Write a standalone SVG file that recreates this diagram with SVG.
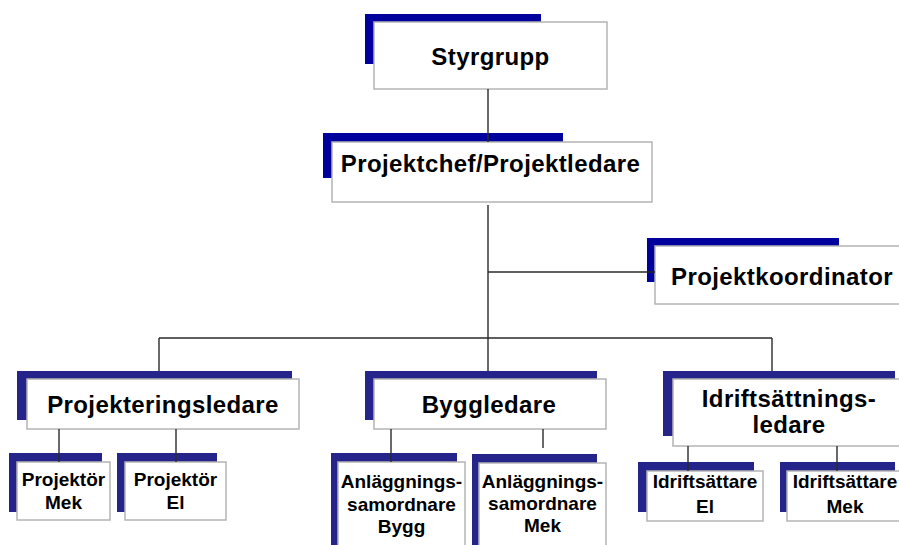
<svg xmlns="http://www.w3.org/2000/svg" width="899" height="545" viewBox="0 0 899 545">
  <style>
    .bg { fill: #ffffff; }
    .sh1 { fill: #00009c; }
    .sh2 { fill: #24248a; }
    .box { fill: #ffffff; stroke: #b4b4b4; stroke-width: 1.5; }
    .big { font-family: "Liberation Sans", Arial, sans-serif; font-weight: bold; font-size: 24px; letter-spacing: 0.4px; fill: #000; text-anchor: middle; }
    .small { font-family: "Liberation Sans", Arial, sans-serif; font-weight: bold; font-size: 19px; fill: #000; text-anchor: middle; }
    .conn line { stroke: #2a2a2a; stroke-width: 1.4; fill: none; }
  </style>
  <rect class="bg" x="0" y="0" width="899" height="545"/>

  <!-- top level -->
  <g id="styrgrupp">
    <rect class="sh1" x="365" y="14" width="176" height="50"/>
    <rect class="box" x="374" y="22" width="233" height="67"/>
    <text class="big" x="490.5" y="65">Styrgrupp</text>
  </g>

  <g id="projektchef">
    <rect class="sh1" x="323" y="133" width="240" height="45"/>
    <rect class="box" x="332" y="142" width="320" height="60"/>
    <text class="big" x="490.5" y="172">Projektchef/Projektledare</text>
  </g>

  <g id="projektkoordinator">
    <rect class="sh1" x="647" y="238" width="192" height="44"/>
    <rect class="box" x="655" y="246" width="254" height="58"/>
    <text class="big" x="782" y="285">Projektkoordinator</text>
  </g>

  <!-- second level -->
  <g id="projekteringsledare">
    <rect class="sh2" x="17" y="371" width="275" height="49"/>
    <rect class="box" x="27" y="379" width="272" height="50"/>
    <text class="big" x="163" y="413">Projekteringsledare</text>
  </g>

  <g id="byggledare">
    <rect class="sh2" x="365" y="371" width="232" height="49"/>
    <rect class="box" x="374" y="379" width="232" height="50"/>
    <text class="big" x="489" y="413">Byggledare</text>
  </g>

  <g id="idriftsattningsledare">
    <rect class="sh2" x="663" y="371" width="232" height="65"/>
    <rect class="box" x="673" y="379" width="232" height="67"/>
    <text class="big" x="789" y="407">Idriftsättnings-</text>
    <text class="big" x="789" y="433">ledare</text>
  </g>

  <!-- third level -->
  <g id="projektor-mek">
    <rect class="sh2" x="9" y="453" width="93" height="59"/>
    <rect class="box" x="17" y="462" width="93" height="58"/>
    <text class="small" x="63.5" y="486">Projektör</text>
    <text class="small" x="63.5" y="509">Mek</text>
  </g>

  <g id="projektor-el">
    <rect class="sh2" x="117" y="453" width="100" height="59"/>
    <rect class="box" x="125" y="462" width="101" height="58"/>
    <text class="small" x="175.5" y="486">Projektör</text>
    <text class="small" x="175.5" y="509">El</text>
  </g>

  <g id="anlaggning-bygg">
    <rect class="sh2" x="331" y="453" width="126" height="110"/>
    <rect class="box" x="338" y="462" width="127" height="100"/>
    <text class="small" x="401.5" y="488">Anläggnings-</text>
    <text class="small" x="401.5" y="511">samordnare</text>
    <text class="small" x="401.5" y="533">Bygg</text>
  </g>

  <g id="anlaggning-mek">
    <rect class="sh2" x="472" y="454" width="125" height="110"/>
    <rect class="box" x="479" y="463" width="127" height="100"/>
    <text class="small" x="542.5" y="488">Anläggnings-</text>
    <text class="small" x="542.5" y="510">samordnare</text>
    <text class="small" x="542.5" y="532">Mek</text>
  </g>

  <g id="idriftsattare-el">
    <rect class="sh2" x="638" y="462" width="116" height="50"/>
    <rect class="box" x="647" y="471" width="116" height="50"/>
    <text class="small" x="705" y="488">Idriftsättare</text>
    <text class="small" x="705" y="513">El</text>
  </g>

  <g id="idriftsattare-mek">
    <rect class="sh2" x="780" y="462" width="115" height="50"/>
    <rect class="box" x="787" y="471" width="116" height="50"/>
    <text class="small" x="845" y="488">Idriftsättare</text>
    <text class="small" x="845" y="513">Mek</text>
  </g>

  <!-- connectors -->
  <g id="connectors" class="conn">
    <line x1="488" y1="89" x2="488" y2="142"/>
    <line x1="488" y1="205" x2="488" y2="371"/>
    <line x1="488" y1="272" x2="655" y2="272"/>
    <line x1="159" y1="338" x2="772" y2="338"/>
    <line x1="159" y1="338" x2="159" y2="371"/>
    <line x1="772" y1="338" x2="772" y2="371"/>
    <line x1="59" y1="429" x2="59" y2="462"/>
    <line x1="176" y1="429" x2="176" y2="462"/>
    <line x1="391" y1="429" x2="391" y2="462"/>
    <line x1="543" y1="429" x2="543" y2="448"/>
    <line x1="688" y1="446" x2="688" y2="471"/>
    <line x1="837" y1="446" x2="837" y2="471"/>
  </g>
</svg>
